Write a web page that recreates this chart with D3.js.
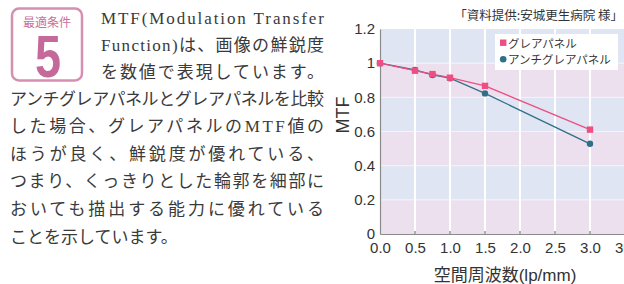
<!DOCTYPE html>
<html><head><meta charset="utf-8">
<script src="https://cdn.jsdelivr.net/npm/d3@7"></script>
<style>html,body{margin:0;padding:0;background:#fff;}svg{display:block;}</style>
</head><body>
<svg id="c" width="624" height="284"></svg>
<script>
// ---- data ----
const freqs = [0, 0.5, 0.75, 1.0, 1.5, 3.0];
const glare = [1.0, 0.956, 0.936, 0.915, 0.867, 0.611];
const antiGlare = [1.0, 0.960, 0.931, 0.912, 0.823, 0.528];
const seriesNames = ["グレアパネル", "アンチグレアパネル"];
const xTicks = [0, 0.5, 1.0, 1.5, 2.0, 2.5, 3.0, 3.5];
const yTicks = [0, 0.2, 0.4, 0.6, 0.8, 1.0, 1.2];
const bodyLines = [
  "MTF(Modulation Transfer",
  "Function)は、画像の鮮鋭度",
  "を数値で表現しています。",
  "アンチグレアパネルとグレアパネルを比較",
  "した場合、グレアパネルのMTF値の",
  "ほうが良く、鮮鋭度が優れている、",
  "つまり、くっきりとした輪郭を細部に",
  "おいても描出する能力に優れている",
  "ことを示しています。"
];
const sourceText = "「資料提供:安城更生病院 様」";
const xTitle = "空間周波数(lp/mm)";
const yTitle = "MTF";

(function () {
const svg = d3.select("#c");
const sans = "'Liberation Sans', Arial, 'Noto Sans CJK JP', sans-serif";
const jp = "'Noto Sans CJK JP', sans-serif";
const serif = "'Liberation Serif', 'DejaVu Serif', 'Noto Sans CJK JP', serif";

// ---- badge ----
const badge = svg.append("g");
badge.append("rect").attr("x", 12).attr("y", 8.5).attr("width", 70).attr("height", 72)
  .attr("rx", 7).attr("fill", "#fff").attr("stroke", "#d68fb1").attr("stroke-width", 2.5);
badge.append("text").attr("x", 47).attr("y", 27).attr("text-anchor", "middle")
  .attr("font-family", jp).attr("font-size", 12).attr("fill", "#c8709b").text("最適条件");
badge.append("text").attr("x", 0).attr("y", 0).attr("text-anchor", "middle")
  .attr("transform", "translate(48,77) scale(0.78,1)")
  .attr("font-family", sans).attr("font-weight", "bold").attr("font-size", 60)
  .attr("fill", "#c5689a").text("5");

// ---- body text ----
const lineY = [24, 51, 78, 105, 132, 160, 187, 215, 243];
const body = svg.append("g").attr("font-family", serif).attr("font-size", 17).attr("fill", "#3a3a3a");
bodyLines.forEach((t, i) => {
  const x0 = i < 3 ? 101 : 10;
  const el = body.append("text").attr("x", x0).attr("y", lineY[i]).text(t);
  if (i < bodyLines.length - 1) {
    el.attr("textLength", 324 - x0).attr("lengthAdjust", "spacing");
  }
});

// ---- chart ----
const pL = 380, pR = 625, pT = 29, pB = 234;
const x = d3.scaleLinear().domain([0, 3.5]).range([pL, pR]);
const y = d3.scaleLinear().domain([0, 1.2]).range([pB, pT]);

const bandColors = ["#ece0ef", "#dfe5f3"];
const bands = d3.range(yTicks.length - 1).map(i => [yTicks[i], yTicks[i + 1]]);
const plot = svg.append("g");
plot.selectAll("rect.band").data(bands).join("rect").attr("class", "band")
  .attr("x", pL).attr("width", pR - pL)
  .attr("y", d => y(d[1])).attr("height", d => y(d[0]) - y(d[1]))
  .attr("fill", (d, i) => bandColors[i % 2]);
plot.selectAll("line.hg").data(yTicks.slice(1, -1)).join("line").attr("class", "hg")
  .attr("x1", pL).attr("x2", pR).attr("y1", d => y(d)).attr("y2", d => y(d))
  .attr("stroke", "#f4f4f8").attr("stroke-width", 1);
plot.selectAll("line.vg").data(xTicks.slice(1)).join("line").attr("class", "vg")
  .attr("x1", d => x(d)).attr("x2", d => x(d)).attr("y1", pT).attr("y2", pB)
  .attr("stroke", "#ffffff").attr("stroke-width", 2);

// axes
const xAxis = d3.axisBottom(x).tickValues(xTicks).tickFormat(d3.format(".1f")).tickSize(0).tickPadding(8);
const gx = svg.append("g").attr("transform", `translate(0,${pB})`).call(xAxis);
gx.select(".domain").attr("stroke", "#8a8a8a").attr("stroke-width", 1.2);
gx.selectAll("text").attr("font-family", sans).attr("font-size", 15).attr("fill", "#333");
svg.append("g").selectAll("line").data(xTicks.slice(1)).join("line")
  .attr("x1", d => x(d)).attr("x2", d => x(d)).attr("y1", pB).attr("y2", pB - 3)
  .attr("stroke", "#777").attr("stroke-width", 1.2);

const yAxis = d3.axisLeft(y).tickValues(yTicks).tickFormat(d => String(+d.toFixed(1))).tickSize(0).tickPadding(5);
const gy = svg.append("g").attr("transform", `translate(${pL},0)`).call(yAxis);
gy.select(".domain").attr("stroke", "#8a8a8a").attr("stroke-width", 1.2);
gy.selectAll("text").attr("font-family", sans).attr("font-size", 15).attr("fill", "#333");

// titles
svg.append("text").attr("x", 505).attr("y", 281).attr("text-anchor", "middle")
  .attr("font-family", sans).attr("font-size", 17).attr("fill", "#333").text(xTitle);
svg.append("text").attr("transform", "translate(349,115) rotate(-90)").attr("text-anchor", "middle")
  .attr("font-family", sans).attr("font-size", 18).attr("fill", "#333").text(yTitle);
svg.append("text").attr("x", 623).attr("y", 20).attr("text-anchor", "end")
  .attr("font-family", jp).attr("font-size", 12.5).attr("fill", "#333").text(sourceText);

// lines
const pink = "#ee4e82", teal = "#2f6f87";
const line = d3.line().x(d => x(d[0])).y(d => y(d[1]));
const aData = freqs.map((f, i) => [f, antiGlare[i]]);
const gData = freqs.map((f, i) => [f, glare[i]]);
svg.append("path").datum(aData).attr("d", line).attr("fill", "none").attr("stroke", teal).attr("stroke-width", 1.3);
svg.selectAll("circle.a").data(aData).join("circle").attr("class", "a")
  .attr("cx", d => x(d[0])).attr("cy", d => y(d[1])).attr("r", 3.2).attr("fill", teal);
svg.append("path").datum(gData).attr("d", line).attr("fill", "none").attr("stroke", pink).attr("stroke-width", 1.3);
svg.selectAll("rect.g").data(gData).join("rect").attr("class", "g")
  .attr("x", d => x(d[0]) - 3.2).attr("y", d => y(d[1]) - 3.2).attr("width", 6.4).attr("height", 6.4).attr("fill", pink);

// legend
const lg = svg.append("g");
lg.append("rect").attr("x", 495).attr("y", 34).attr("width", 123).attr("height", 36).attr("fill", "#fff");
lg.append("rect").attr("x", 500).attr("y", 39.5).attr("width", 6.4).attr("height", 6.4).attr("fill", pink);
lg.append("circle").attr("cx", 503.2).attr("cy", 59.3).attr("r", 3.3).attr("fill", teal);
lg.selectAll("text").data(seriesNames).join("text")
  .attr("x", 508).attr("y", (d, i) => 47.5 + i * 16.5)
  .attr("font-family", jp).attr("font-size", 11.5).attr("fill", "#333").text(d => d);
})();
</script>
</body></html>
